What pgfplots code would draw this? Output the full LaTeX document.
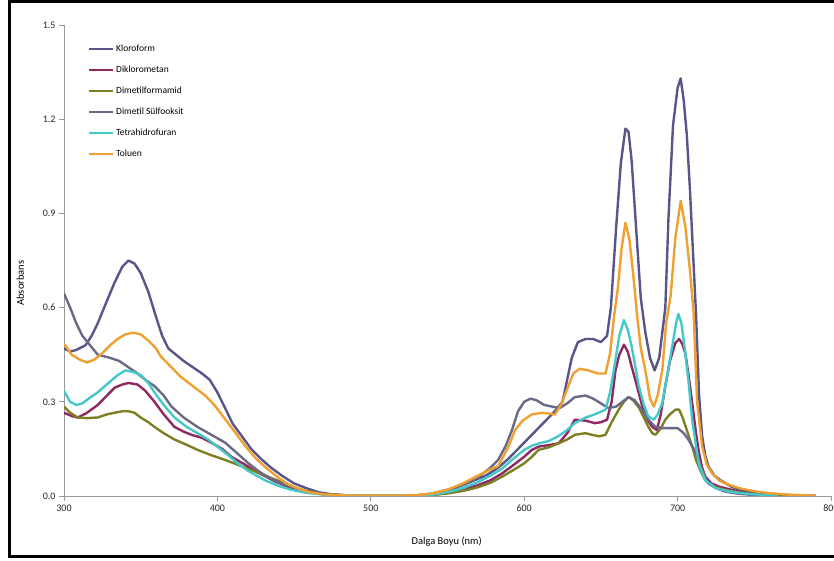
\documentclass[border=0pt]{standalone}
\usepackage{pgfplots}
\pgfplotsset{compat=1.18}
\usepackage{fontspec}
\setmainfont{Carlito}
\definecolor{ckloro}{HTML}{59548A}
\definecolor{cdiklo}{HTML}{8E2A60}
\definecolor{cdmf}{HTML}{7E7E22}
\definecolor{cdmso}{HTML}{6A6A86}
\definecolor{cthf}{HTML}{45C8CA}
\definecolor{ctol}{HTML}{F0A030}
\begin{document}
\begin{tikzpicture}
\useasboundingbox (0pt,0pt) rectangle (834pt,561pt);
\draw[line width=3pt] (850pt,559.5pt) -- (9pt,559.5pt) -- (9pt,4pt) -- (850pt,4pt);
\begin{axis}[
  at={(64pt,65pt)}, anchor=south west, scale only axis,
  width=767pt, height=471pt,
  xmin=300, xmax=800, ymin=0, ymax=1.5,
  axis x line*=bottom, axis y line*=left,
  axis line style={draw=gray!80, -, line width=0.8pt},
  xtick={300,400,...,800}, ytick={0,0.3,...,1.5},
  tick align=outside, major tick length=5pt,
  tick style={gray!80, line width=0.8pt},
  /pgf/number format/assume math mode=true,
  yticklabel style={/pgf/number format/fixed, /pgf/number format/fixed zerofill, /pgf/number format/precision=1},
  xticklabel style={/pgf/number format/1000 sep={}},
  ticklabel style={font=\fontsize{10}{11}\selectfont, text=black!85},
  xlabel={Dalga Boyu (nm)}, ylabel={Absorbans},
  label style={font=\fontsize{10.5}{12}\selectfont},
  xlabel style={at={(axis description cs:0.499,-0.097)}, anchor=center},
  ylabel style={at={(axis description cs:-0.057,0.452)}, anchor=center},
  legend style={at={(axis description cs:0.031,0.963)}, anchor=north west, draw=none, fill=none,
    font=\fontsize{9.5}{10}\selectfont, row sep=9pt, inner sep=0pt},
  legend cell align=left,
  legend image code/.code={\draw[#1, line width=2.2pt] (0pt,0pt) -- (24pt,0pt);},
  every axis plot/.append style={line width=2.4pt, line join=round},
  clip=true,
]
\addplot[color=ckloro] coordinates {
(300,0.47)(304,0.46)(308,0.465)(314,0.48)(318,0.51)(322,0.55)(327,0.61)(333,0.68)(338,0.73)(342,0.75)(346,0.74)(350,0.71)(355,0.65)(360,0.57)(364,0.51)(368,0.47)(373,0.45)(378,0.43)(384,0.41)(390,0.39)(395,0.37)(400,0.33)(405,0.28)(410,0.23)(416,0.19)(422,0.15)(428,0.12)(435,0.09)(442,0.065)(450,0.04)(458,0.025)(466,0.012)(475,0.005)(485,0.002)(500,0.001)(520,0.001)(535,0.003)(545,0.012)(555,0.025)(565,0.045)(575,0.065)(583,0.09)(590,0.12)(596,0.15)(602,0.18)(608,0.21)(614,0.24)(620,0.27)(625,0.30)(628,0.37)(631,0.44)(635,0.49)(640,0.50)(645,0.50)(650,0.49)(654,0.51)(656.5,0.60)(660,0.86)(663,1.06)(666,1.17)(668,1.16)(670,1.07)(673,0.85)(676,0.63)(679,0.52)(682,0.44)(685,0.40)(688,0.44)(690,0.52)(692,0.60)(694,0.88)(697,1.18)(700,1.30)(702,1.33)(704,1.26)(706,1.15)(708,0.98)(710,0.78)(712,0.58)(714,0.32)(716,0.19)(718,0.13)(720,0.095)(724,0.065)(728,0.05)(735,0.03)(740,0.02)(750,0.01)(760,0.005)(775,0.002)(790,0.001)
};
\addlegendentry{Kloroform}
\addplot[color=cdiklo] coordinates {
(300,0.265)(305,0.255)(309,0.25)(315,0.265)(322,0.29)(328,0.32)(333,0.345)(338,0.355)(342,0.36)(348,0.355)(353,0.335)(359,0.30)(365,0.26)(372,0.22)(378,0.205)(383,0.195)(390,0.185)(396,0.17)(403,0.15)(409,0.125)(418,0.10)(427,0.073)(437,0.048)(448,0.025)(458,0.012)(470,0.005)(485,0.001)(520,0.001)(540,0.004)(550,0.01)(560,0.02)(570,0.035)(578,0.05)(585,0.07)(592,0.095)(600,0.125)(605,0.147)(610,0.158)(616,0.162)(622.5,0.168)(628,0.20)(633,0.243)(640,0.24)(646,0.232)(650,0.235)(654,0.243)(657,0.30)(659.5,0.40)(662,0.45)(665,0.482)(667.5,0.46)(670,0.413)(673.5,0.35)(677,0.285)(680,0.245)(683.5,0.22)(686.5,0.21)(689,0.26)(692,0.35)(695,0.43)(698.5,0.487)(701,0.50)(703,0.485)(705,0.455)(707,0.39)(709.5,0.296)(712,0.20)(714,0.136)(716,0.09)(718,0.062)(722,0.04)(727,0.03)(735,0.02)(740,0.014)(750,0.007)(765,0.002)
};
\addlegendentry{Diklorometan}
\addplot[color=cdmf] coordinates {
(300,0.285)(304,0.265)(309,0.25)(315,0.248)(322,0.25)(328,0.26)(333,0.265)(338,0.27)(342,0.27)(346,0.265)(350,0.25)(355,0.235)(359,0.22)(365,0.20)(372,0.18)(380,0.163)(387,0.147)(396,0.13)(405,0.115)(413,0.10)(422,0.083)(431,0.065)(440,0.048)(448,0.03)(458,0.016)(470,0.006)(485,0.002)(520,0.001)(540,0.003)(550,0.008)(560,0.016)(570,0.028)(578,0.042)(585,0.06)(592,0.08)(600,0.104)(605,0.125)(609.4,0.147)(616,0.155)(622.5,0.168)(628,0.18)(633,0.195)(640,0.20)(644,0.195)(649,0.19)(653,0.195)(657,0.235)(661.6,0.275)(665,0.30)(668,0.315)(671,0.305)(675,0.28)(678,0.25)(681,0.22)(683.5,0.20)(685.6,0.195)(689,0.215)(692,0.243)(695,0.26)(698.6,0.275)(701,0.275)(703,0.253)(705,0.225)(707.3,0.19)(710,0.15)(712,0.115)(715,0.08)(718,0.05)(722,0.035)(727,0.025)(735,0.015)(745,0.008)(760,0.003)(775,0.001)
};
\addlegendentry{Dimetilformamid}
\addplot[color=cdmso] coordinates {
(300,0.645)(304,0.60)(308,0.55)(312,0.51)(317,0.48)(322,0.45)(330,0.44)(336,0.43)(342,0.41)(348,0.39)(353,0.37)(359,0.35)(365,0.32)(370,0.285)(378,0.25)(387,0.22)(396,0.195)(405,0.17)(412,0.14)(420,0.105)(428,0.075)(435,0.055)(442,0.04)(448,0.03)(458,0.015)(468,0.007)(480,0.002)(500,0.001)(530,0.002)(540,0.008)(550,0.02)(560,0.035)(570,0.06)(578,0.09)(583,0.115)(588,0.16)(592,0.21)(596,0.27)(600,0.30)(604,0.31)(608,0.305)(613,0.29)(618,0.285)(623,0.28)(628,0.295)(633,0.315)(640,0.32)(645,0.31)(650,0.295)(655,0.28)(660,0.285)(664,0.30)(668,0.315)(672,0.305)(676,0.28)(681,0.243)(685,0.222)(690,0.216)(695,0.216)(700,0.216)(704,0.20)(707,0.18)(710,0.155)(712,0.137)(714,0.11)(716,0.083)(718,0.06)(720,0.04)(725,0.025)(731,0.014)(740,0.007)(750,0.003)(765,0.001)
};
\addlegendentry{Dimetil Sülfooksit}
\addplot[color=cthf] coordinates {
(300,0.335)(304,0.30)(308,0.29)(312,0.295)(316,0.31)(322,0.33)(329,0.36)(335,0.385)(340,0.40)(345,0.395)(350,0.385)(355,0.36)(359,0.33)(365,0.29)(372,0.25)(380,0.22)(387,0.20)(394,0.18)(400,0.157)(407,0.13)(413,0.105)(420,0.08)(431,0.05)(440,0.032)(448,0.02)(458,0.01)(470,0.004)(485,0.001)(520,0.001)(540,0.004)(550,0.012)(560,0.025)(570,0.045)(578,0.065)(585,0.085)(592,0.115)(600,0.147)(605,0.16)(610,0.168)(616,0.175)(622,0.19)(628,0.21)(633,0.232)(640,0.25)(646,0.26)(653,0.275)(656,0.33)(659.5,0.434)(662,0.51)(665,0.56)(667.5,0.53)(670,0.477)(672.5,0.41)(674.7,0.35)(678,0.29)(681,0.253)(684.5,0.243)(687,0.26)(690,0.296)(693,0.38)(696.5,0.477)(699,0.55)(700.5,0.58)(702.5,0.55)(705,0.456)(707,0.37)(709.5,0.243)(712,0.16)(714,0.10)(718,0.05)(725,0.025)(733,0.015)(740,0.01)(750,0.005)(765,0.002)
};
\addlegendentry{Tetrahidrofuran}
\addplot[color=ctol] coordinates {
(300,0.485)(305,0.45)(310,0.435)(315,0.425)(320,0.435)(325,0.455)(330,0.48)(335,0.50)(340,0.515)(345,0.52)(350,0.515)(355,0.495)(360,0.47)(363,0.445)(368,0.42)(376,0.38)(384,0.35)(392,0.32)(398,0.29)(405,0.245)(412,0.20)(418,0.16)(425,0.12)(431,0.093)(438,0.065)(445,0.04)(452,0.025)(460,0.012)(470,0.005)(480,0.002)(500,0.001)(530,0.002)(540,0.008)(550,0.02)(560,0.04)(570,0.065)(578,0.085)(583,0.095)(590,0.16)(594,0.21)(599,0.24)(605,0.26)(612,0.265)(620,0.26)(624,0.29)(628,0.34)(632,0.39)(636,0.405)(642,0.40)(648,0.39)(653,0.39)(656,0.455)(658.5,0.57)(661,0.66)(663.5,0.79)(666,0.87)(668.5,0.82)(671,0.71)(673.5,0.58)(676,0.47)(679,0.40)(682,0.31)(684.5,0.285)(687,0.32)(690,0.40)(692.5,0.55)(695.5,0.64)(698.5,0.82)(702,0.94)(705,0.86)(708,0.72)(710.5,0.58)(712.7,0.30)(716,0.158)(719,0.10)(722.5,0.072)(727,0.05)(731,0.04)(740,0.025)(750,0.015)(760,0.009)(770,0.005)(780,0.003)(790,0.001)
};
\addlegendentry{Toluen}
\end{axis}
\end{tikzpicture}
\end{document}
